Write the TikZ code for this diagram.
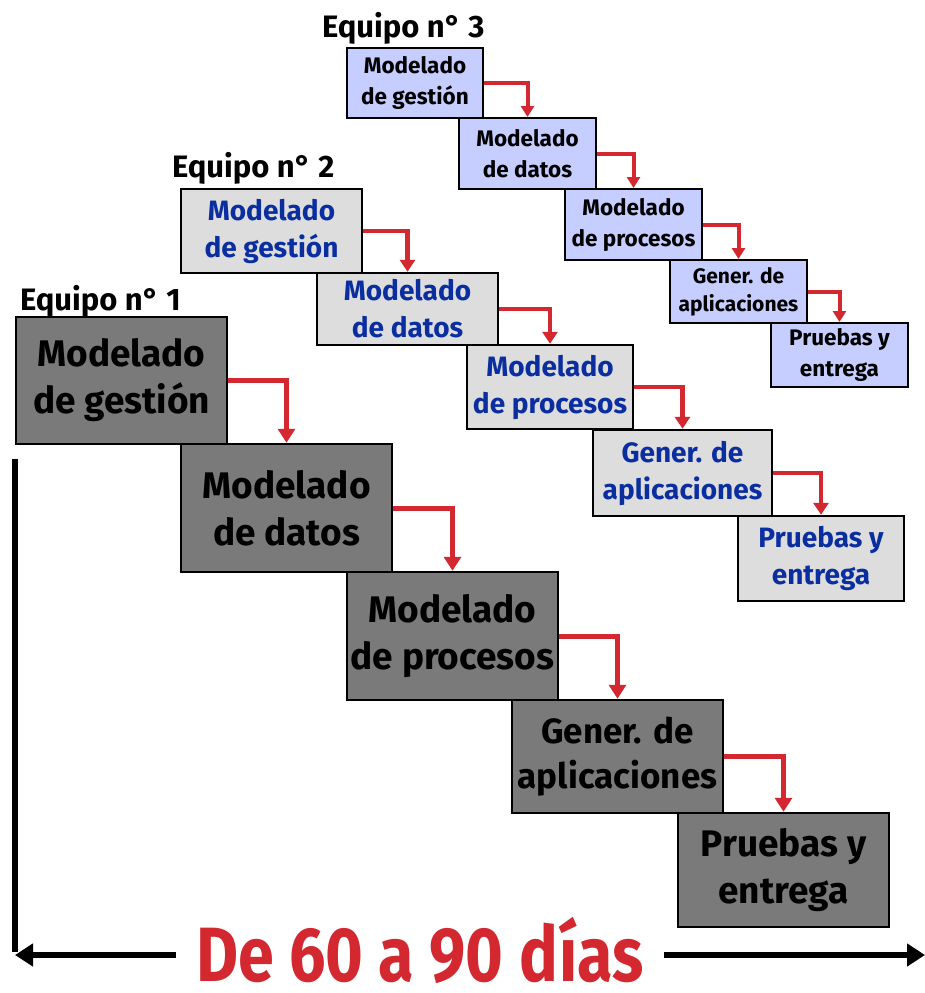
\documentclass[tikz,border=0pt]{standalone}
\usepackage{fontspec}
\setmainfont{Fira Sans}
\usetikzlibrary{arrows.meta}
\definecolor{boxdark}{RGB}{122,122,122}
\definecolor{boxlight}{RGB}{221,221,221}
\definecolor{boxblue}{RGB}{197,206,255}
\definecolor{txtblue}{RGB}{10,45,160}
\definecolor{arrred}{RGB}{212,40,48}
\begin{document}
\begin{tikzpicture}[x=1pt,y=-1pt,
  tbox/.style={draw=black, line width=2.5pt, inner sep=0pt, align=center},
  teamA/.style={tbox, fill=boxdark, text=black, font=\fontsize{37}{47}\selectfont\bfseries},
  teamAs/.style={teamA, font=\fontsize{35}{45}\selectfont\bfseries},
  teamB/.style={tbox, fill=boxlight, text=txtblue, font=\fontsize{28}{37}\selectfont\bfseries},
  teamC/.style={tbox, line width=2pt, fill=boxblue, text=black, font=\fontsize{22.5}{31}\selectfont\bfseries},
  teamCs/.style={teamC, font=\fontsize{21}{28}\selectfont\bfseries},
  equipo/.style={anchor=base west, inner sep=0pt, font=\fontsize{31}{36}\selectfont\bfseries, text=black},
  redA/.style={draw=arrred, line width=5pt, -{Triangle[width=17pt,length=14pt]}},
  redB/.style={draw=arrred, line width=4.5pt, -{Triangle[width=15pt,length=12pt]}},
  redC/.style={draw=arrred, line width=4pt, -{Triangle[width=13pt,length=11pt]}},
  bararrow/.style={draw=black, line width=6pt, -{Triangle[width=22pt,length=18pt]}},
  bar/.style={draw=black, line width=6pt},
  days/.style={anchor=base, inner xsep=20pt, inner ysep=0pt, text depth=0pt, text=arrred, font=\fontsize{77}{86}\selectfont\bfseries}
]
\useasboundingbox (0,0) rectangle (925,993);

% Team 3
\node[equipo] (e3) at (322,37) {Equipo n° 3};
\node[teamC, minimum width=136, minimum height=70] (c1) at (415,83) {Modelado\\de gestión};
\node[teamC, minimum width=137, minimum height=71] (c2) at (527.5,153.5) {Modelado\\de datos};
\node[teamC, minimum width=137, minimum height=71] (c3) at (633.5,224.5) {Modelado\\de procesos};
\node[teamCs, minimum width=137, minimum height=63] (c4) at (738.5,291.5) {Gener. de\\aplicaciones};
\node[teamC, minimum width=137, minimum height=64] (c5) at (839.5,355) {Pruebas y\\entrega};
\draw[redC] (c1.east) -| (c2.north);
\draw[redC] (c2.east) -| (c3.north);
\draw[redC] (c3.east) -| (c4.north);
\draw[redC] (c4.east) -| (c5.north);

% Team 2
\node[equipo] (e2) at (172,177) {Equipo n° 2};
\node[teamB, minimum width=181, minimum height=84] (b1) at (271.5,231) {Modelado\\de gestión};
\node[teamB, minimum width=181, minimum height=72] (b2) at (407.5,309) {Modelado\\de datos};
\node[teamB, minimum width=166, minimum height=84] (b3) at (550,387) {Modelado\\de procesos};
\node[teamB, minimum width=179, minimum height=86] (b4) at (682.5,473) {Gener. de\\aplicaciones};
\node[teamB, minimum width=166, minimum height=85] (b5) at (821,558.5) {Pruebas y\\entrega};
\draw[redB] (b1.east) -| (b2.north);
\draw[redB] (b2.east) -| (b3.north);
\draw[redB] (b3.east) -| (b4.north);
\draw[redB] (b4.east) -| (b5.north);

% Team 1
\node[equipo] (e1) at (20,310) {Equipo n° 1};
\node[teamA, minimum width=211, minimum height=127] (a1) at (121.5,380.5) {Modelado\\de gestión};
\node[teamA, minimum width=211, minimum height=128] (a2) at (286.5,508) {Modelado\\de datos};
\node[teamA, minimum width=211, minimum height=128] (a3) at (452.5,636) {Modelado\\de procesos};
\node[teamAs, minimum width=211, minimum height=113] (a4) at (617.5,756.5) {Gener. de\\aplicaciones};
\node[teamA, minimum width=211, minimum height=114] (a5) at (783.5,870) {Pruebas y\\entrega};
\draw[redA] (a1.east) -| (a2.north);
\draw[redA] (a2.east) -| (a3.north);
\draw[redA] (a3.east) -| (a4.north);
\draw[redA] (a4.east) -| (a5.north);

% Time span
\coordinate (vtop) at (15,459);
\coordinate (corner) at (15,955);
\coordinate (rend) at (925,955);
\node[days] (d) at (420,981) {\scalebox{0.84}[1]{De 60 a 90 días}};
\draw[bar] (vtop) -- ([yshift=3pt]corner);
\draw[bararrow] (d.west |- corner) -- (corner);
\draw[bararrow] (d.east |- corner) -- (rend);
\end{tikzpicture}
\end{document}
